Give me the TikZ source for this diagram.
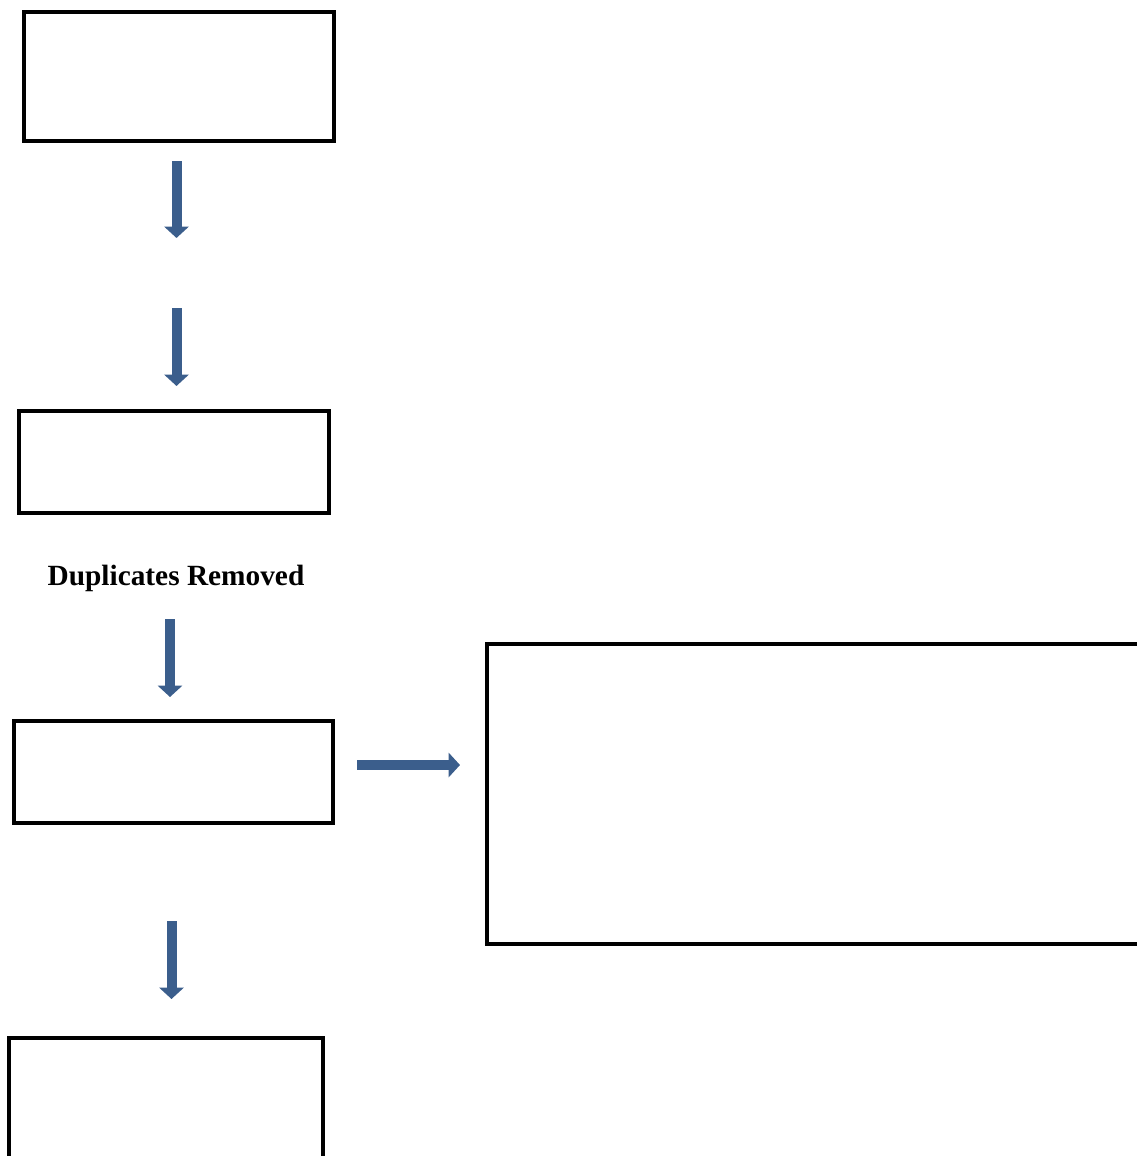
\documentclass[tikz,border=0pt]{standalone}
\usepackage{fontspec}
\setmainfont{Liberation Serif}
\usetikzlibrary{arrows.meta}
\definecolor{arrowblue}{RGB}{59,94,140}
\tikzset{
  box/.style={draw=black, line width=3pt, rectangle, inner sep=0pt},
  blockarrow/.style={draw=arrowblue, line width=7.5pt, -{Triangle[width=18pt,length=8.5pt]}},
  lbl/.style={font=\bfseries\fontsize{22}{26}\selectfont, inner sep=0pt}
}
\begin{document}
\begin{tikzpicture}[x=0.75pt,y=-0.75pt]
\useasboundingbox (0,0) rectangle (1137,1156);
\clip (0,0) rectangle (1137,1156);
\node[box, minimum width=232.5pt, minimum height=96.75pt] (b1) at (179,76.5) {};
\node[box, minimum width=232.5pt, minimum height=76.5pt] (b2) at (174,462) {};
\node[box, minimum width=239.25pt, minimum height=76.5pt] (b3) at (173.5,772) {};
\node[box, minimum width=235.5pt, minimum height=99pt] (b4) at (166,1104) {};
\node[box, minimum width=497.25pt, minimum height=225pt] (b5) at (818.5,794) {};
\node[lbl] (dup) at (176,578.5) {Duplicates Removed};
\coordinate (a1s) at (176.5,161); \coordinate (a1e) at (176.5,238);
\coordinate (a2s) at (176.5,308); \coordinate (a2e) at (176.5,386);
\coordinate (a3s) at (170,619);   \coordinate (a3e) at (170,697);
\coordinate (a4s) at (171.5,921); \coordinate (a4e) at (171.5,999);
\coordinate (a5s) at (357,765);   \coordinate (a5e) at (460,765);
\draw[blockarrow] (a1s) -- (a1e);
\draw[blockarrow] (a2s) -- (a2e);
\draw[blockarrow] (a3s) -- (a3e);
\draw[blockarrow] (a4s) -- (a4e);
\draw[blockarrow] (a5s) -- (a5e);
\end{tikzpicture}
\end{document}
